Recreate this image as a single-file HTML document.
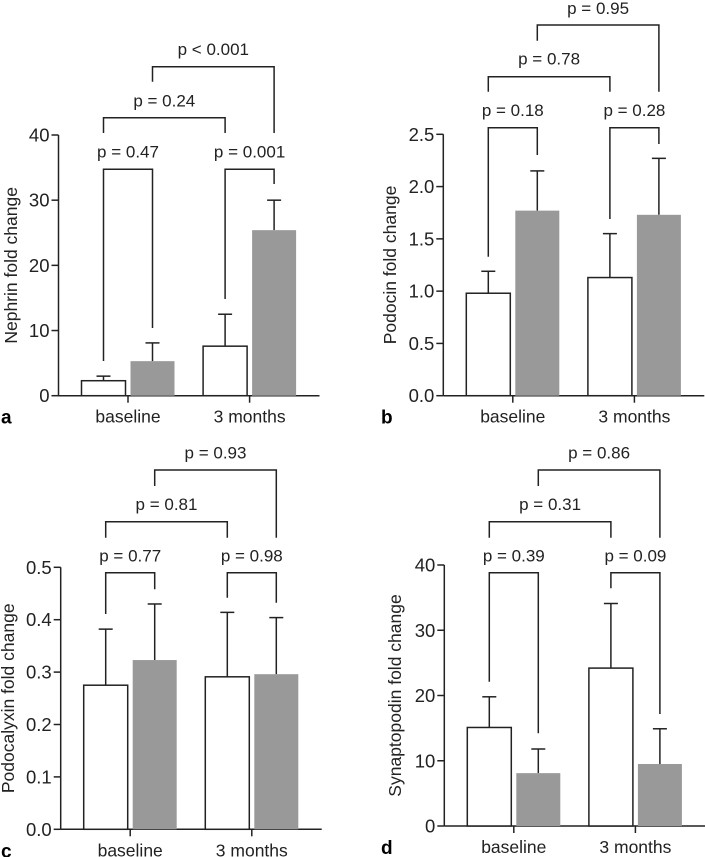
<!DOCTYPE html>
<html><head><meta charset="utf-8"><style>
html,body{margin:0;padding:0;background:#fff;}
svg{display:block;font-family:"Liberation Sans",Arial,sans-serif;}
</style></head><body>
<svg id="fig" width="705" height="857" viewBox="0 0 705 857" xmlns="http://www.w3.org/2000/svg"></svg>
<script>
// ---- data ----
const categories = ["baseline", "3 months"];
const nephrinWhite = [2.3, 7.6];
const nephrinWhiteErr = [3.0, 12.5];
const nephrinGray = [5.3, 25.4];
const nephrinGrayErr = [8.1, 30.0];
const nephrinTicks = [0, 10, 20, 30, 40];
const podocinWhite = [0.98, 1.13];
const podocinWhiteErr = [1.19, 1.55];
const podocinGray = [1.77, 1.73];
const podocinGrayErr = [2.15, 2.27];
const podocinTicks = ["0.0", "0.5", "1.0", "1.5", "2.0", "2.5"];
const podocalyxinWhite = [0.275, 0.291];
const podocalyxinWhiteErr = [0.382, 0.414];
const podocalyxinGray = [0.323, 0.296];
const podocalyxinGrayErr = [0.43, 0.404];
const podocalyxinTicks = ["0.0", "0.1", "0.2", "0.3", "0.4", "0.5"];
const synaptoWhite = [15.1, 24.2];
const synaptoWhiteErr = [19.8, 34.1];
const synaptoGray = [8.1, 9.5];
const synaptoGrayErr = [11.8, 14.9];
const synaptoTicks = [0, 10, 20, 30, 40];
const pA = ["p = 0.47", "p = 0.001", "p = 0.24", "p < 0.001"];
const pB = ["p = 0.18", "p = 0.28", "p = 0.78", "p = 0.95"];
const pC = ["p = 0.77", "p = 0.98", "p = 0.81", "p = 0.93"];
const pD = ["p = 0.39", "p = 0.09", "p = 0.31", "p = 0.86"];

const NS = "http://www.w3.org/2000/svg";
const svg = document.getElementById("fig");
const INK = "#222";
function mk(tag, attrs, parent) {
  const e = document.createElementNS(NS, tag);
  for (const k in attrs) e.setAttribute(k, attrs[k]);
  (parent || svg).appendChild(e);
  return e;
}
function line(g, x1, y1, x2, y2) {
  return mk("line", {x1, y1, x2, y2, stroke: INK, "stroke-width": 1.5}, g);
}

function panel(cfg) {
  const g = mk("g", {});
  
  
  const max = Number(cfg.ticks[cfg.ticks.length - 1]);
  const y = v => cfg.y0 - (v / max) * (cfg.y0 - cfg.yTop);
  const gx = i => cfg.ax + 69.5 + i * 121.6;
  const yAxis = line(g, cfg.ax, cfg.yTop, cfg.ax, cfg.y0);
  
  
  const xAxis = line(g, cfg.ax, cfg.y0, cfg.ax + 261, cfg.y0);
  
  
  cfg.ticks.forEach(t => {
    const ty = y(Number(t));
    line(g, cfg.ax - 7, ty, cfg.ax, ty);
    const tl = mk("text", {x: cfg.ax - 9, y: ty + 6.5, "text-anchor": "end", "font-size": 18.5, fill: INK}, g);
    tl.textContent = String(t);
    
    
  });
  const title = mk("text", {x: 0, y: 0, "text-anchor": "middle", "font-size": 17.5, fill: INK,
    transform: `translate(${cfg.titleX},${(cfg.y0 + cfg.yTop) / 2}) rotate(-90)`}, g);
  title.textContent = cfg.title;
  
  
  const centers = [];
  categories.forEach((c, i) => {
    const cx = gx(i);
    line(g, cx, cfg.y0, cx, cfg.y0 + 7);
    const cl = mk("text", {x: cx, y: cfg.y0 + 27, "text-anchor": "middle", "font-size": 17.5, fill: INK}, g);
    cl.textContent = c;
    
    
    [[cfg.white, cfg.whiteErr, -24.5, "#fff"], [cfg.gray, cfg.grayErr, 24.5, "#999"]].forEach(([vals, errs, off, fill]) => {
      const bx = cx + off;
      centers.push(bx);
      const top = y(vals[i]), et = y(errs[i]);
      line(g, bx, top, bx, et);
      line(g, bx - 7, et, bx + 7, et);
      const r = mk("rect", {x: bx - 22, y: top, width: 44, height: cfg.y0 - top, fill,
        stroke: fill === "#fff" ? INK : "none", "stroke-width": 1.5}, g);
      
      
    });
  });
  cfg.brackets.forEach((b, k) => {
    const [li, ri, by, lb, rb, ty] = b;
    const x1 = centers[li], x2 = centers[ri];
    const pth = mk("path", {d: `M${x1},${lb} V${by} H${x2} V${rb}`, fill: "none", stroke: INK, "stroke-width": 1.5}, g);
    
    
    const pt = mk("text", {x: (x1 + x2) / 2, y: ty, "text-anchor": "middle", "font-size": 17, fill: INK}, g);
    pt.textContent = cfg.p[k];
    
    
  });
  const lt = mk("text", {x: cfg.letterX, y: cfg.y0 + 28, "font-size": 19, "font-weight": "bold", fill: "#000"}, g);
  lt.textContent = cfg.letter;
  
  
}

panel({name: "panel-a-nephrin", ax: 58.5, y0: 395.7, yTop: 135, ticks: nephrinTicks, title: "Nephrin fold change", titleX: 17,
  white: nephrinWhite, whiteErr: nephrinWhiteErr, gray: nephrinGray, grayErr: nephrinGrayErr, p: pA, letter: "a", letterX: 1,
  brackets: [[0, 1, 169.3, 361, 328, 157.5], [2, 3, 169.3, 299, 184, 157.5], [0, 2, 117.7, 133, 133, 106.5], [1, 3, 66.7, 81.7, 133, 55]]});
panel({name: "panel-b-podocin", ax: 443.3, y0: 395.7, yTop: 134.3, ticks: podocinTicks, title: "Podocin fold change", titleX: 396,
  white: podocinWhite, whiteErr: podocinWhiteErr, gray: podocinGray, grayErr: podocinGrayErr, p: pB, letter: "b", letterX: 381,
  brackets: [[0, 1, 127.7, 256.7, 155, 116], [2, 3, 127.7, 219, 144, 116], [0, 2, 76.7, 91.7, 91.7, 64.5], [1, 3, 25, 40.7, 91.7, 14]]});
panel({name: "panel-c-podocalyxin", ax: 60.7, y0: 829.3, yTop: 567.3, ticks: podocalyxinTicks, title: "Podocalyxin fold change", titleX: 14,
  white: podocalyxinWhite, whiteErr: podocalyxinWhiteErr, gray: podocalyxinGray, grayErr: podocalyxinGrayErr, p: pC, letter: "c", letterX: 1,
  brackets: [[0, 1, 572.7, 614, 589.3, 561.7], [2, 3, 572.7, 597.7, 602.7, 561.7], [0, 2, 521.7, 537.7, 537.7, 510], [1, 3, 470, 486, 537.7, 458.5]]});
panel({name: "panel-d-synaptopodin", ax: 444.3, y0: 826, yTop: 565, ticks: synaptoTicks, title: "Synaptopodin fold change", titleX: 401,
  white: synaptoWhite, whiteErr: synaptoWhiteErr, gray: synaptoGray, grayErr: synaptoGrayErr, p: pD, letter: "d", letterX: 381,
  brackets: [[0, 1, 572.7, 681.7, 733.3, 561.7], [2, 3, 572.7, 588.3, 714, 561.7], [0, 2, 521.7, 537.7, 537.7, 510], [1, 3, 470, 486, 537.7, 458.5]]});
</script>
</body></html>
